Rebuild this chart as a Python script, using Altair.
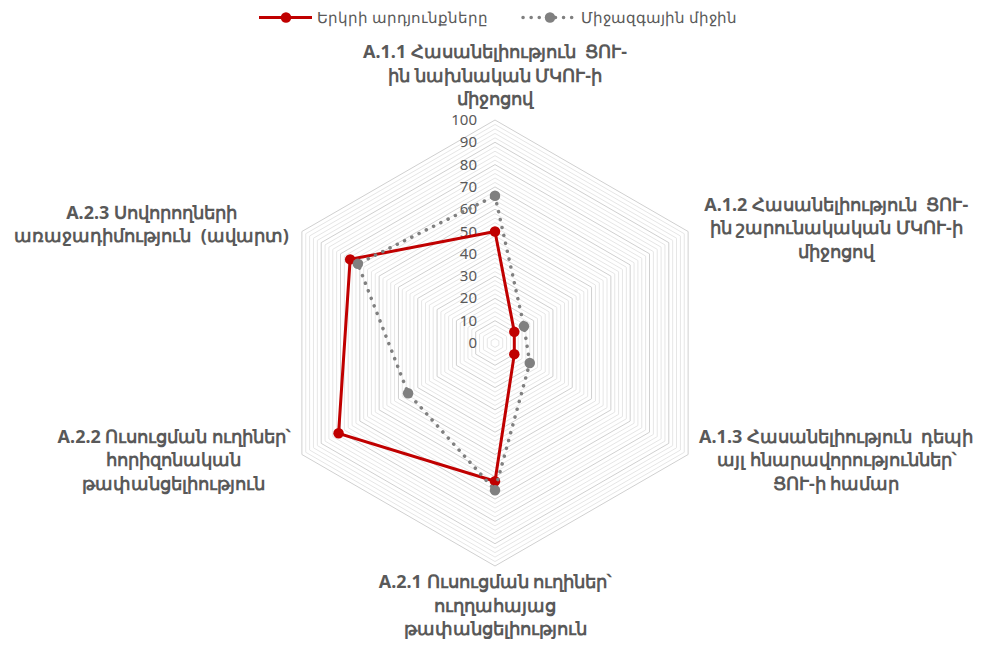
import altair as alt
import pandas as pd
import numpy as np

# ---------------- data ----------------
NB = "\u00a0"
categories = [
    f"A.1.1 Հասանելիություն {NB}ՑՈՒ-\nին նախնական ՄԿՈՒ-ի\nմիջոցով",
    f"A.1.2 Հասանելիություն {NB}ՑՈՒ-\nին շարունակական ՄԿՈՒ-ի\nմիջոցով",
    f"A.1.3 Հասանելիություն {NB}դեպի\nայլ հնարավորություններ՝\nՑՈՒ-ի համար",
    "A.2.1 Ուսուցման ուղիներ՝\nուղղահայաց\nթափանցելիություն",
    "A.2.2 Ուսուցման ուղիներ՝\nհորիզոնական\nթափանցելիություն",
    f"A.2.3 Սովորողների\nառաջադիմություն {NB}(ավարտ)",
]
country = [50, 10, 10, 62, 81, 75]
international = [66, 15, 18, 66, 45, 71]
series_names = ["Երկրի արդյունքները", "Միջազգային միջին"]
tick_values = [0, 10, 20, 30, 40, 50, 60, 70, 80, 90, 100]
grid_levels = list(range(2, 101, 2))

# ---------------- layout ----------------
W, H = 966, 631
CX, CY = 487, 335          # centre of the radar in plot pixels
PX_PER_UNIT = 2.23
x_dom = [-CX / PX_PER_UNIT, (W - CX) / PX_PER_UNIT]
y_dom = [-(H - CY) / PX_PER_UNIT, CY / PX_PER_UNIT]
xs = alt.Scale(domain=x_dom, range=[0, W], nice=False, zero=False)
ys = alt.Scale(domain=y_dom, range=[H, 0], nice=False, zero=False)

# first-line anchor of each category label (value units from the centre)
label_offsets = [(0, 130), (153, 61.5), (153, -42.5), (0, -107.8), (-144, -42.5), (-154, 58)]

FONT = "Noto Sans"
TXT = "#595959"

n = len(categories)
angles = [np.pi / 2 - 2 * np.pi * i / n for i in range(n)]

# grid hexagons
grid_rows = []
for lv in grid_levels:
    for k in range(n + 1):
        a = angles[k % n]
        grid_rows.append({"level": lv, "ord": k, "x": lv * np.cos(a), "y": lv * np.sin(a),
                          "major": "major" if lv % 10 == 0 else "minor"})
grid_df = pd.DataFrame(grid_rows)

def series_df(vals, name):
    rows = []
    for k in range(n + 1):
        a = angles[k % n]
        v = vals[k % n]
        rows.append({"series": name, "ord": k, "x": v * np.cos(a), "y": v * np.sin(a), "value": v})
    return pd.DataFrame(rows)

c_df = series_df(country, series_names[0])
i_df = series_df(international, series_names[1])

tick_df = pd.DataFrame({"v": tick_values, "label": [str(t) for t in tick_values]})
tick_df["x"] = -18 / PX_PER_UNIT
tick_df["y"] = tick_df["v"]

lab_df = pd.DataFrame({"label": categories,
                       "x": [o[0] for o in label_offsets],
                       "y": [o[1] for o in label_offsets]})

X = lambda: alt.X("x:Q", scale=xs, axis=None)
Y = lambda: alt.Y("y:Q", scale=ys, axis=None)

grid_minor = alt.Chart(grid_df[grid_df.major == "minor"]).mark_line(
    color="#e6e6e6", strokeWidth=1
).encode(x=X(), y=Y(), detail="level:N", order="ord:Q")

grid_major = alt.Chart(grid_df[grid_df.major == "major"]).mark_line(
    color="#d0d0d0", strokeWidth=1
).encode(x=X(), y=Y(), detail="level:N", order="ord:Q")

ticks = alt.Chart(tick_df).mark_text(
    align="right", baseline="middle", font=FONT, fontSize=15, color=TXT
).encode(x=X(), y=Y(), text="label:N")

red = "#C00000"
gray = "#808080"

c_line = alt.Chart(c_df).mark_line(color=red, strokeWidth=3).encode(x=X(), y=Y(), order="ord:Q")
c_pts = alt.Chart(c_df[c_df.ord < n]).mark_circle(color=red, size=110, opacity=1).encode(x=X(), y=Y())
i_line = alt.Chart(i_df).mark_line(color=gray, strokeWidth=3.5, strokeDash=[0.1, 8],
                                   strokeCap="round").encode(x=X(), y=Y(), order="ord:Q")
i_pts = alt.Chart(i_df[i_df.ord < n]).mark_circle(color=gray, size=110, opacity=1).encode(x=X(), y=Y())

labels = alt.Chart(lab_df).mark_text(
    align="center", baseline="middle", font=FONT, fontSize=18, fontWeight="bold",
    color=TXT, lineBreak="\n", lineHeight=23.5
).encode(x=X(), y=Y(), text="label:N")

# ---------------- custom legend ----------------
leg_y = 9.5
leg1 = pd.DataFrame({"series": [series_names[0]]})
leg2 = pd.DataFrame({"series": [series_names[1]]})

l1_line = alt.Chart(leg1).mark_rule(color=red, strokeWidth=3).encode(
    x=alt.value(251), x2=alt.value(304), y=alt.value(leg_y))
l1_pt = alt.Chart(leg1).mark_circle(color=red, size=110, opacity=1).encode(
    x=alt.value(278), y=alt.value(leg_y))
l1_txt = alt.Chart(leg1).mark_text(align="left", baseline="middle", font=FONT, fontSize=15,
                                   color=TXT).encode(x=alt.value(309), y=alt.value(leg_y), text="series:N")
l2_line = alt.Chart(leg2).mark_rule(color=gray, strokeWidth=3.5, strokeDash=[0.1, 8],
                                    strokeCap="round").encode(
    x=alt.value(515), x2=alt.value(568), y=alt.value(leg_y))
l2_pt = alt.Chart(leg2).mark_circle(color=gray, size=110, opacity=1).encode(
    x=alt.value(542), y=alt.value(leg_y))
l2_txt = alt.Chart(leg2).mark_text(align="left", baseline="middle", font=FONT, fontSize=15,
                                   color=TXT).encode(x=alt.value(573), y=alt.value(leg_y), text="series:N")

chart = alt.layer(
    grid_minor, grid_major, ticks, c_line, c_pts, i_line, i_pts, labels,
    l1_line, l1_pt, l1_txt, l2_line, l2_pt, l2_txt
).properties(
    width=W, height=H, padding=0, background="white",
    autosize=alt.AutoSizeParams(type="none")
).configure_view(strokeWidth=0, strokeOpacity=0)

chart.save("out.html", embed_options={"renderer": "svg", "actions": False})
